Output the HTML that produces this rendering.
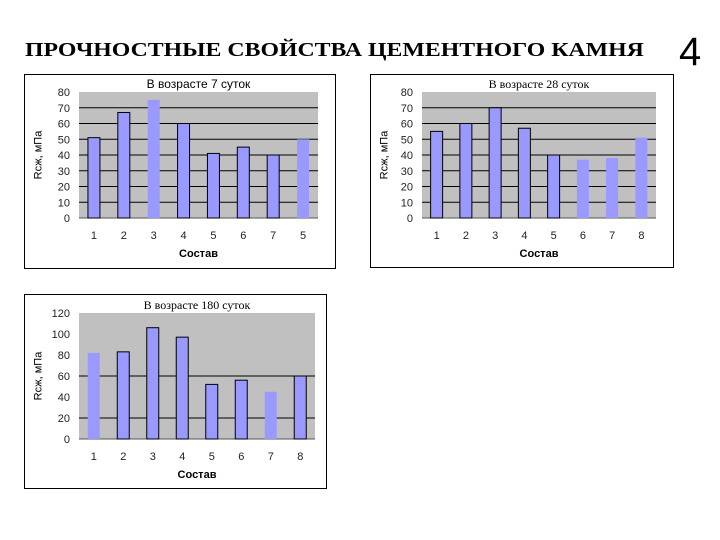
<!DOCTYPE html>
<html><head><meta charset="utf-8"><style>
body{margin:0;background:#fff;width:720px;height:540px;overflow:hidden;position:relative;font-family:"Liberation Sans",sans-serif}
#title{position:absolute;left:25px;top:39px;font:bold 20px "Liberation Serif",serif;white-space:nowrap;transform:scaleX(1.19);transform-origin:0 0}
#num{position:absolute;left:679px;top:30px;font:40px "Liberation Sans",sans-serif}
svg{position:absolute;left:0;top:0}
</style></head><body>
<div id="title">ПРОЧНОСТНЫЕ СВОЙСТВА ЦЕМЕНТНОГО КАМНЯ</div>
<div id="num">4</div>
<svg id="s" width="720" height="540"></svg>
<script>
const categories1=["1","2","3","4","5","6","7","5"];
const values1=[51,67,75,60,41,45,40,50];
const ticks1=[0,10,20,30,40,50,60,70,80];
const categories2=["1","2","3","4","5","6","7","8"];
const values2=[55,60,70,57,40,37,38,51];
const ticks2=[0,10,20,30,40,50,60,70,80];
const categories3=["1","2","3","4","5","6","7","8"];
const values3=[82,83,106,97,52,56,45,60];
const ticks3=[0,20,40,60,80,100,120];
const grid3=[20,60];
const NS="http://www.w3.org/2000/svg";
const svg=document.getElementById('s');
function el(t,a,p){const e=document.createElementNS(NS,t);for(const k in a)e.setAttribute(k,a[k]);(p||svg).appendChild(e);return e;}
function chart(name,box,plot,title,titleSerif,cats,vals,ticks,max,grid,outlined){
  const g=el('g',{});
  
  
  const fr=el('rect',{x:box[0],y:box[1],width:box[2],height:box[3],fill:'#fff',stroke:'#000','stroke-width':1},g);
  
  
  const [L,T,R,B]=plot;
  const y=v=>B-(v/max)*(B-T);
  const x=i=>L+(i+0.5)*(R-L)/cats.length;
  const bg=el('rect',{x:L,y:T,width:R-L,height:B-T,fill:'#c0c0c0'},g);
  
  
  (grid||ticks).forEach(t=>{if(t>0&&t<max){const l=el('line',{x1:L,x2:R,y1:y(t),y2:y(t),stroke:'#000','stroke-width':1},g);
    
    }});
  ticks.forEach(t=>{const tx=el('text',{x:L-9,y:y(t)+4,'text-anchor':'end','font-size':11,fill:'#222'},g);tx.textContent=t;
    
    });
  el('line',{x1:L,x2:R,y1:B,y2:B,stroke:'#555'},g);
  vals.forEach((v,i)=>{const bw=12;
    const r=el('rect',{x:x(i)-bw/2,y:y(v),width:bw,height:B-y(v),fill:'#9999ff',stroke:outlined[i]?'#000':'none','stroke-width':1},g);
    
    
    const tx=el('text',{x:x(i),y:B+21,'text-anchor':'middle','font-size':11,fill:'#222'},g);tx.textContent=cats[i];
    
    });
  const xt=el('text',{x:(L+R)/2,y:B+39,'text-anchor':'middle','font-size':11,'font-weight':'bold'},g);xt.textContent='Состав';
  
  
  const yt=el('text',{x:0,y:0,'text-anchor':'middle','font-size':11,transform:`translate(${box[0]+17},${(T+B)/2}) rotate(-90)`},g);yt.textContent='Rсж, мПа';
  
  
  const tt=el('text',{x:(L+R)/2,y:T-4,'text-anchor':'middle','font-size':12,'font-family':titleSerif?'Liberation Serif,serif':'Liberation Sans,sans-serif'},g);tt.textContent=title;
  
  
}
chart('chart-7-days',[24.5,74.5,311,194],[79,92,318,218],'В возрасте 7 суток',false,categories1,values1,ticks1,80,null,[1,1,0,1,1,1,1,0]);
chart('chart-28-days',[370.5,74.5,303,193],[422,92,656,218],'В возрасте 28 суток',true,categories2,values2,ticks2,80,null,[1,1,1,1,1,0,0,0]);
chart('chart-180-days',[24.5,294.5,302,194],[79,313,315,439],'В возрасте 180 суток',true,categories3,values3,ticks3,120,grid3,[0,1,1,1,1,1,0,1]);
</script>
</body></html>
